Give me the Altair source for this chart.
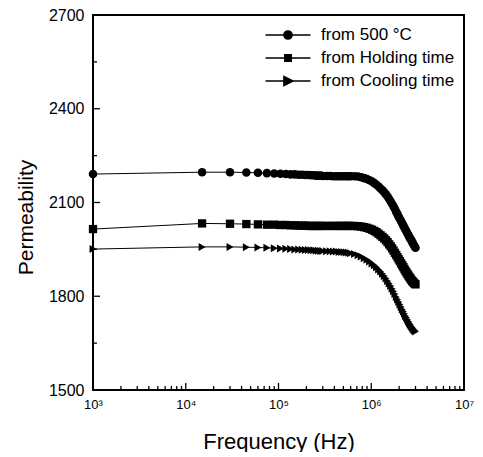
import altair as alt
import pandas as pd

# ---------------- data ----------------
freq_khz = [1,
            15, 30, 45, 60, 75, 90, 105, 120, 135, 150, 165, 180, 195, 210, 225, 240, 255,
            270, 285, 300,
            330, 360, 390, 420, 450, 480, 510, 540, 570, 600,
            660, 720, 780, 840, 900, 960, 1020, 1080, 1140,
            1200, 1260, 1320, 1380, 1440, 1500, 1560, 1620, 1680, 1740, 1800, 1860, 1920,
            1980, 2040, 2100, 2160, 2220, 2280, 2340, 2400, 2460, 2520, 2580, 2640, 2700,
            2760, 2820, 2880, 2940, 3000]

perm_500 = [2191,
            2197, 2197, 2196, 2195, 2194, 2193, 2192, 2191, 2190, 2190, 2189, 2189, 2188,
            2188, 2187, 2187, 2186, 2186, 2186, 2185,
            2185, 2185, 2184, 2184, 2184, 2184, 2184, 2184, 2184, 2184,
            2184, 2183, 2181, 2178, 2175, 2171, 2167, 2162, 2157,
            2151, 2145, 2139, 2133, 2126, 2119, 2111, 2103, 2095, 2087, 2079, 2070, 2062,
            2054, 2047, 2040, 2033, 2026, 2019, 2013, 2007, 2001, 1995, 1989, 1984, 1979,
            1974, 1969, 1964, 1959, 1955]

perm_hold = [2015,
             2033, 2032, 2031, 2030, 2029, 2029, 2028, 2028, 2027, 2027, 2026, 2026, 2026,
             2025, 2025, 2025, 2025, 2025, 2025, 2025,
             2025, 2025, 2025, 2025, 2025, 2025, 2025, 2025, 2025, 2025,
             2025, 2024, 2023, 2021, 2019, 2016, 2013, 2009, 2005,
             2000, 1995, 1990, 1985, 1979, 1973, 1966, 1960, 1953, 1946, 1939, 1932, 1925,
             1918, 1912, 1905, 1899, 1893, 1887, 1881, 1876, 1871, 1866, 1861, 1857, 1853,
             1849, 1846, 1843, 1840, 1838]

perm_cool = [1951,
             1958, 1958, 1957, 1956, 1955, 1954, 1953, 1952, 1951, 1950, 1950, 1949, 1948,
             1948, 1947, 1947, 1946, 1946, 1945, 1945,
             1944, 1944, 1943, 1943, 1942, 1942, 1941, 1940, 1939, 1938,
             1935, 1931, 1927, 1922, 1917, 1911, 1905, 1899, 1893,
             1886, 1879, 1872, 1865, 1857, 1849, 1841, 1833, 1824, 1816, 1807, 1798, 1790,
             1782, 1774, 1766, 1758, 1751, 1744, 1737, 1731, 1725, 1719, 1714, 1709, 1704,
             1700, 1696, 1693, 1690, 1687]

series_names = ["from 500 °C", "from Holding time", "from Cooling time"]

y_major = [1500, 1800, 2100, 2400, 2700]
y_minor = [1650, 1950, 2250, 2550]
x_major = [1e3, 1e4, 1e5, 1e6, 1e7]
x_labels = ["10³", "10⁴", "10⁵", "10⁶", "10⁷"]

# ---------------- tables ----------------
rows = []
for name, vals in zip(series_names, [perm_500, perm_hold, perm_cool]):
    for f, v in zip(freq_khz, vals):
        rows.append({"series": name, "freq": f * 1000.0, "perm": v})
df = pd.DataFrame(rows)

W, H = 371, 375
Y0, Y1 = 1500, 2700
X0, X1 = 1e3, 1e7
px_per_unit = H / (Y1 - Y0)
px_per_dec = W / 4.0
MAJ, MIN = 7, 4

xt = []
for d in range(3, 7):
    for m in range(1, 10):
        v = m * 10 ** d
        if v <= X0:
            continue
        ln = MAJ if m == 1 else MIN
        xt.append({"freq": v, "perm": Y0, "perm2": Y0 + ln / px_per_unit})
xt_df = pd.DataFrame(xt)

yt = []
for v in y_major[1:-1]:
    yt.append({"perm": v, "freq": X0, "freq2": X0 * 10 ** (MAJ / px_per_dec)})
for v in y_minor:
    yt.append({"perm": v, "freq": X0, "freq2": X0 * 10 ** (MIN / px_per_dec)})
yt_df = pd.DataFrame(yt)

xscale = alt.Scale(type="log", domain=[X0, X1], nice=False)
yscale = alt.Scale(domain=[Y0, Y1], nice=False, zero=False)

label_expr = " : ".join(
    f"datum.value == {v:g} ? '{l}'" for v, l in zip(x_major, x_labels)
) + " : ''"

x_axis = alt.Axis(values=x_major, labelExpr=label_expr, ticks=False, tickSize=0,
                  domain=False, grid=False, labelFontSize=13, labelPadding=8,
                  labelFlush=False, title="Frequency (Hz)", titleFontSize=22,
                  titleBaseline="alphabetic", titleY=58, titleFontWeight="normal")
y_axis = alt.Axis(values=y_major, format="d", ticks=False, tickSize=0, domain=False,
                  grid=False, labelFontSize=16, labelPadding=9, labelFlush=False,
                  title="Permeability", titleFontSize=21, titleAngle=270,
                  titleBaseline="alphabetic", titleX=-61, titleY=202,
                  titleAlign="center", titleFontWeight="normal")

X = alt.X("freq:Q", scale=xscale, axis=x_axis)
Y = alt.Y("perm:Q", scale=yscale, axis=y_axis)

lines = alt.Chart(df).mark_line(color="black", strokeWidth=1).encode(
    x=X, y=Y, detail="series:N",
)

points = alt.Chart(df).mark_point(filled=True, color="black", opacity=1).encode(
    x=X, y=Y,
    shape=alt.Shape("series:N",
                    scale=alt.Scale(domain=series_names,
                                    range=["circle", "square", "triangle-right"]),
                    legend=None),
    size=alt.Size("series:N",
                  scale=alt.Scale(domain=series_names, range=[74, 64, 130]),
                  legend=None),
)

# legend glyphs: horizontal line + marker drawn as concentric outlines (stroke only)
K = 2.25  # 20px symbol box -> 45px line


def ring(r):
    return f"M{r:.3f},0A{r:.3f},{r:.3f},0,1,1,{-r:.3f},0A{r:.3f},{r:.3f},0,1,1,{r:.3f},0"


def sq(h):
    return f"M{-h:.3f},{-h:.3f}L{h:.3f},{-h:.3f}L{h:.3f},{h:.3f}L{-h:.3f},{h:.3f}Z"


def tri(s):
    cx = -0.1
    pts = [(-0.42, -0.46), (0.52, 0.0), (-0.42, 0.46)]
    p = [(cx + (x - cx) * s, y * s) for x, y in pts]
    return f"M{p[0][0]:.3f},{p[0][1]:.3f}L{p[1][0]:.3f},{p[1][1]:.3f}L{p[2][0]:.3f},{p[2][1]:.3f}Z"


base = f"M{-K},0L{K},0"
leg_paths = [
    base + "".join(ring(r) for r in [0.42, 0.33, 0.24, 0.15, 0.06]),
    base + "".join(sq(h) for h in [0.33, 0.24, 0.15, 0.06]),
    base + "".join(tri(s) for s in [1.0, 0.78, 0.56, 0.34, 0.12]),
]

legend_layer = alt.Chart(df).mark_point(filled=False, color="black",
                                        strokeWidth=1.3, opacity=0).encode(
    x=X, y=Y,
    shape=alt.Shape("series:N",
                    scale=alt.Scale(domain=series_names, range=leg_paths),
                    legend=alt.Legend(title=None, orient="none", legendX=184, legendY=9,
                                      symbolSize=400, symbolStrokeColor="black",
                                      symbolStrokeWidth=1.3, symbolOpacity=1,
                                      labelFontSize=17, labelOffset=22,
                                      labelColor="black", rowPadding=4, padding=0,
                                      labelFont="Liberation Sans")),
)

xticks = alt.Chart(xt_df).mark_rule(color="black", strokeWidth=1.3).encode(
    x=X, y=Y, y2="perm2:Q",
)
yticks = alt.Chart(yt_df).mark_rule(color="black", strokeWidth=1.3).encode(
    x=X, x2="freq2:Q", y=Y,
)

chart = (
    alt.layer(xticks, yticks, lines, points, legend_layer)
    .resolve_scale(shape="independent", size="independent")
    .resolve_legend(shape="independent", size="independent")
    .properties(width=W, height=H, autosize=alt.AutoSizeParams(type="none"),
                padding={"left": 85, "top": 7, "right": 11, "bottom": 62},
                background="white")
    .configure_view(stroke="black", strokeWidth=2)
    .configure_axis(labelFont="Liberation Sans", titleFont="Liberation Sans",
                    labelColor="black", titleColor="black")
)

chart.save("out.html", embed_options={"renderer": "svg", "actions": False})
